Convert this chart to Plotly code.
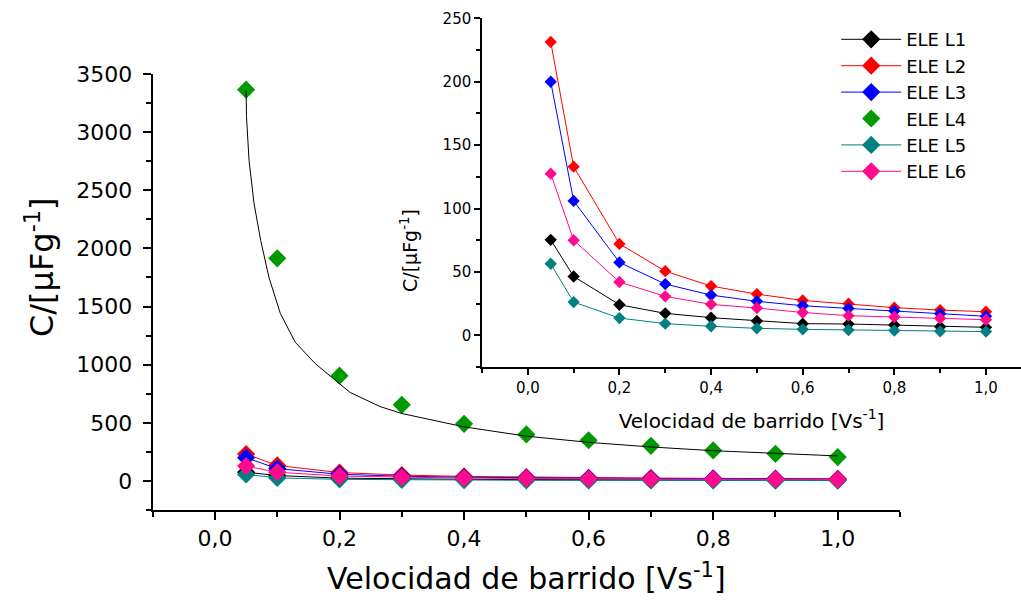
import plotly.graph_objects as go

# ---- data ----
scan_rate = [0.05, 0.1, 0.2, 0.3, 0.4, 0.5, 0.6, 0.7, 0.8, 0.9, 1.0]
ele_l1 = [75.3, 46.4, 24.1, 17.3, 13.9, 11.3, 9.2, 8.9, 8.1, 6.8, 6.3]
ele_l2 = [231.4, 133.0, 72.1, 50.6, 38.8, 32.5, 27.5, 24.9, 21.8, 19.9, 18.6]
ele_l3 = [200.0, 106.0, 57.5, 40.4, 31.7, 26.8, 23.3, 21.2, 19.2, 17.0, 15.0]
ele_l4 = [3365, 1915, 905, 655, 491, 400, 350, 302, 262, 233, 205]
ele_l5 = [56.4, 26.2, 13.6, 9.2, 7.1, 5.5, 4.7, 4.2, 3.7, 3.1, 2.9]
ele_l6 = [127.5, 75.0, 42.0, 30.7, 24.4, 21.5, 18.0, 15.5, 14.4, 13.4, 12.3]

# fitted curve drawn through ELE L4
fit_x = [0.05, 0.0506, 0.0547, 0.0627, 0.0734, 0.0866, 0.105, 0.129, 0.161,
         0.217, 0.265, 0.3, 0.4, 0.5, 0.6, 0.7, 0.8, 0.9, 1.0]
fit_y = [3362, 3132, 2758, 2388, 2069, 1752, 1440, 1192, 1009,
         761, 640, 580, 465, 385, 332, 292, 260, 236, 215]

names = ["ELE L1", "ELE L2", "ELE L3", "ELE L4", "ELE L5", "ELE L6"]
series = [ele_l1, ele_l2, ele_l3, ele_l4, ele_l5, ele_l6]
colors = ["#000000", "#FF0000", "#0000FF", "#009900", "#008080", "#FF0A8C"]

x_tickvals = [0.0, 0.2, 0.4, 0.6, 0.8, 1.0]
x_ticktext = ["0,0", "0,2", "0,4", "0,6", "0,8", "1,0"]
main_y_tickvals = [0, 500, 1000, 1500, 2000, 2500, 3000, 3500]
inset_y_tickvals = [0, 50, 100, 150, 200, 250]

x_title = "Velocidad de barrido [Vs<sup>-1</sup>]"
y_title = "C/[µFg<sup>-1</sup>]"

FONT = "DejaVu Sans, Liberation Sans, Arial, sans-serif"
W, H = 1021, 603

fig = go.Figure()

# main plot traces
for name, vals, col in zip(names, series, colors):
    if name == "ELE L4":
        fig.add_trace(go.Scatter(x=scan_rate, y=vals, name=name, mode="markers",
                                 marker=dict(symbol="diamond", size=14, color=col),
                                 xaxis="x", yaxis="y"))
    else:
        fig.add_trace(go.Scatter(x=scan_rate, y=vals, name=name, mode="lines+markers",
                                 line=dict(color=col, width=1),
                                 marker=dict(symbol="diamond", size=14, color=col),
                                 xaxis="x", yaxis="y"))

fig.add_trace(go.Scatter(x=fit_x, y=fit_y, mode="lines", showlegend=False,
                         line=dict(color="#000000", width=1),
                         xaxis="x", yaxis="y"))

# inset traces
for name, vals, col in zip(names, series, colors):
    if name == "ELE L4":
        continue
    fig.add_trace(go.Scatter(x=scan_rate, y=vals, name=name, mode="lines+markers",
                             showlegend=False,
                             line=dict(color=col, width=1),
                             marker=dict(symbol="diamond", size=9.5, color=col),
                             xaxis="x2", yaxis="y2"))

main_axis_common = dict(showgrid=False, zeroline=False, showline=True, automargin=False,
                        linecolor="black", linewidth=2, ticks="outside",
                        tickcolor="black", tickwidth=2, ticklen=8,
                        tickfont=dict(family=FONT, size=22, color="black"))
inset_axis_common = dict(showgrid=False, zeroline=False, showline=True, automargin=False,
                         linecolor="black", linewidth=1.5, ticks="outside",
                         tickcolor="black", tickwidth=1.5, ticklen=6,
                         tickfont=dict(family=FONT, size=15, color="black"))

fig.update_layout(
    width=W, height=H,
    margin=dict(l=0, r=0, t=0, b=0, autoexpand=False),
    paper_bgcolor="white", plot_bgcolor="rgba(0,0,0,0)",
    font=dict(family=FONT, color="black"),
    showlegend=True,
    legend=dict(x=0.819, y=0.965, xanchor="left", yanchor="top",
                bgcolor="rgba(0,0,0,0)", font=dict(family=FONT, size=18, color="black"),
                itemwidth=60, tracegroupgap=0),
    xaxis=dict(domain=[152.7 / W, 900 / W], range=[-0.1, 1.1],
               tickvals=x_tickvals, ticktext=x_ticktext, anchor="y",
               minor=dict(dtick=0.1, tick0=0, ticks="outside", ticklen=5,
                          tickwidth=2, tickcolor="black"),
               title=dict(text=x_title,
                          font=dict(family=FONT, size=30, color="black"), standoff=18),
               **main_axis_common),
    yaxis=dict(domain=[1 - 510 / H, 1 - 74 / H], range=[-250, 3500],
               tickvals=main_y_tickvals, anchor="x", ticklabelstandoff=6,
               minor=dict(dtick=250, tick0=0, ticks="outside", ticklen=5,
                          tickwidth=2, tickcolor="black"),
               **main_axis_common),
    xaxis2=dict(domain=[482 / W, 1.0], range=[-0.1, 1.0765],
                tickvals=x_tickvals, ticktext=x_ticktext, anchor="y2",
                minor=dict(dtick=0.1, tick0=0, ticks="outside", ticklen=4,
                           tickwidth=1.5, tickcolor="black"),
                title=dict(text=x_title,
                           font=dict(family=FONT, size=20, color="black"), standoff=18),
                **inset_axis_common),
    yaxis2=dict(domain=[1 - 367 / H, 1 - 18.3 / H], range=[-25, 250],
                tickvals=inset_y_tickvals, anchor="x2",
                minor=dict(dtick=25, tick0=0, ticks="outside", ticklen=4,
                           tickwidth=1.5, tickcolor="black"),
                **inset_axis_common),
    annotations=[
        dict(text=y_title, xref="paper", yref="paper", x=40 / W, y=1 - 267 / H,
             xanchor="center", yanchor="middle", textangle=-90, showarrow=False,
             font=dict(family=FONT, size=32, color="black")),
        dict(text=y_title, xref="paper", yref="paper", x=409 / W, y=1 - 251 / H,
             xanchor="center", yanchor="middle", textangle=-90, showarrow=False,
             font=dict(family=FONT, size=19, color="black")),
    ],
)

fig.write_html("out.html")
